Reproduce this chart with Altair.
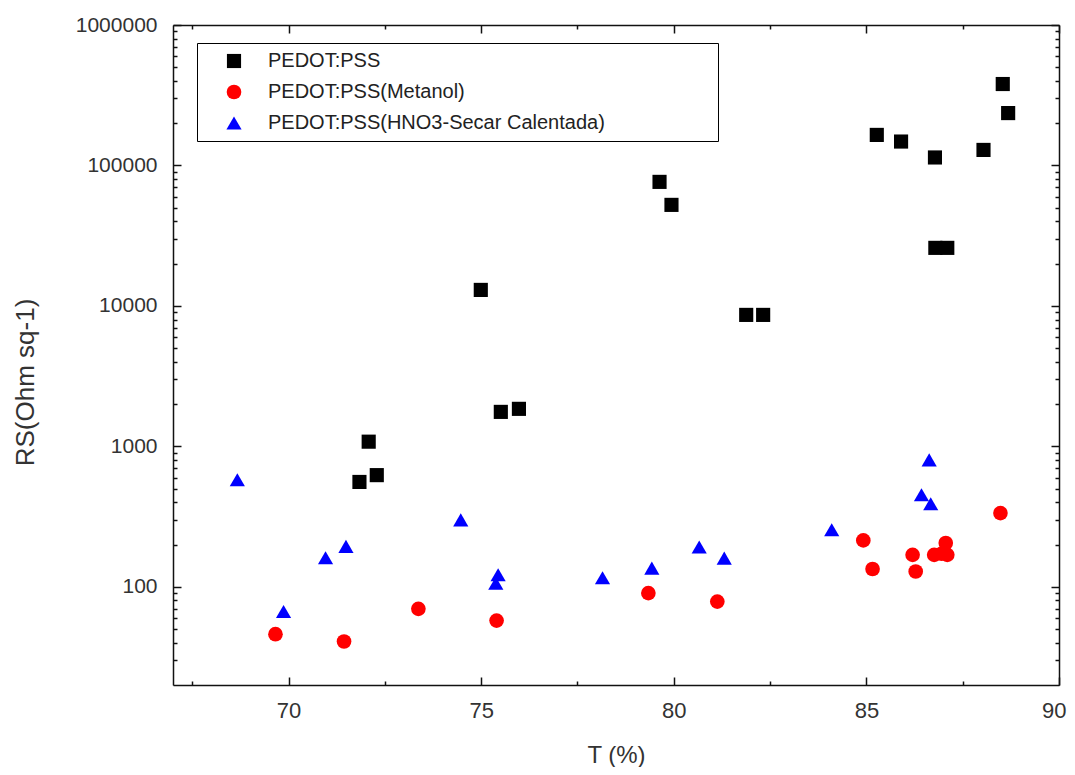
import altair as alt
import pandas as pd

SERIES = ["PEDOT:PSS", "PEDOT:PSS(Metanol)", "PEDOT:PSS(HNO3-Secar Calentada)"]
COLORS = ["#000000", "#ff0000", "#0000ff"]
SHAPES = ["square", "circle", "triangle-up"]
SIZES = [200, 230, 320]

# PEDOT:PSS (black squares)
sq_T = [88.54, 88.68, 85.27, 85.90, 86.78, 88.04, 86.79, 87.10, 79.63, 79.94,
        81.88, 82.32, 74.99, 75.51, 75.98, 72.08, 71.84, 72.29]
sq_RS = [380000, 236000, 165000, 148000, 114000, 129000, 25900, 25900, 76400, 52400,
         8630, 8630, 13000, 1760, 1850, 1080, 558, 624]

# PEDOT:PSS(Metanol) (red circles)
ci_T = [69.66, 71.44, 73.37, 75.40, 79.34, 81.13, 84.92, 85.16, 86.20, 86.28,
        86.76, 86.95, 87.06, 87.10, 88.48]
ci_RS = [46, 40.8, 69.7, 57.5, 90.2, 78.5, 214, 134, 169, 128.5,
         169, 172, 205, 169, 335]

# PEDOT:PSS(HNO3-Secar Calentada) (blue triangles)
tr_T = [68.67, 69.87, 70.96, 71.49, 74.47, 75.44, 75.38, 78.15, 79.43, 80.66,
        81.31, 84.10, 86.63, 86.43, 86.67]
tr_RS = [578, 66.7, 161, 194, 300, 122, 106, 116, 136, 192,
         160, 255, 801, 452, 390]

X_TICKS = [67.5, 70, 72.5, 75, 77.5, 80, 82.5, 85, 87.5, 90]
Y_TICKS = [30, 40, 50, 60, 70, 80, 90,
           100, 200, 300, 400, 500, 600, 700, 800, 900,
           1000, 2000, 3000, 4000, 5000, 6000, 7000, 8000, 9000,
           10000, 20000, 30000, 40000, 50000, 60000, 70000, 80000, 90000,
           100000, 200000, 300000, 400000, 500000, 600000, 700000, 800000, 900000,
           1000000]

df = pd.concat([
    pd.DataFrame({"T": sq_T, "RS": sq_RS, "series": SERIES[0]}),
    pd.DataFrame({"T": ci_T, "RS": ci_RS, "series": SERIES[1]}),
    pd.DataFrame({"T": tr_T, "RS": tr_RS, "series": SERIES[2]}),
], ignore_index=True)

W, H = 886, 660

MAJOR_X = "datum.value % 5 == 0"
MAJOR_Y = "abs(log(datum.value)/LN10 - round(log(datum.value)/LN10)) < 0.001"
X_TICK = {"expr": f"{MAJOR_X} ? -8 : -4"}
Y_TICK = {"expr": f"{MAJOR_Y} ? -8 : -4"}

x_scale = alt.Scale(domain=[67, 90], nice=False, zero=False)
y_scale = alt.Scale(type="log", domain=[20, 1000000], nice=False)

common = dict(grid=False, domainColor="#111111", domainWidth=1.5,
              tickColor="#111111", tickWidth=1.5, labelOverlap=False)

PAD = "\u2800" * 7  # non-trimmed blank so the legend frame keeps the reference width

pts = alt.Chart(df).mark_point(filled=True, opacity=1, strokeWidth=0).encode(
    x=alt.X("T:Q", scale=x_scale, axis=alt.Axis(
        orient="bottom", values=X_TICKS, format="d", tickSize=X_TICK,
        labelExpr=f"{MAJOR_X} ? datum.label : ''",
        labelFlush=True, labelFlushOffset=7,
        labelPadding=23, labelFontSize=22, labelFont="Liberation Sans",
        labelColor="#333333",
        title="T (%)", titleFontSize=24, titleFont="Liberation Sans",
        titleFontWeight="normal", titleColor="#333333",
        titleBaseline="middle", titleY=70, **common)),
    y=alt.Y("RS:Q", scale=y_scale, axis=alt.Axis(
        orient="left", values=Y_TICKS, format="d", tickSize=Y_TICK,
        labelExpr=f"{MAJOR_Y} ? datum.label : ''", labelFlush=False,
        labelPadding=24, labelFontSize=21, labelFont="Liberation Sans",
        labelColor="#333333",
        title="RS(Ohm sq-1)", titleFontSize=26, titleFont="Liberation Sans",
        titleFontWeight="normal", titleColor="#333333",
        titleBaseline="middle", titleX=-148, titleY=357, titleAngle=270,
        **common)),
    color=alt.Color("series:N", scale=alt.Scale(domain=SERIES, range=COLORS),
                    legend=alt.Legend(
                        title=None, orient="none", legendX=24, legendY=18,
                        strokeColor="black", padding=8, symbolSize=180,
                        symbolOffset=19, labelOffset=24, labelFontSize=20,
                        labelFont="Liberation Sans", labelColor="#222222",
                        rowPadding=11, labelLimit=800, symbolStrokeWidth=0,
                        labelExpr=f"datum.label + '{PAD}'")),
    shape=alt.Shape("series:N", scale=alt.Scale(domain=SERIES, range=SHAPES)),
    size=alt.Size("series:N", scale=alt.Scale(domain=SERIES, range=SIZES), legend=None),
)

frame = alt.Chart(df).mark_point(opacity=0).encode(
    x=alt.X("T:Q", scale=x_scale, axis=alt.Axis(
        orient="top", values=X_TICKS, labels=False, title=None,
        tickSize=X_TICK, **common)),
    y=alt.Y("RS:Q", scale=y_scale, axis=alt.Axis(
        orient="right", values=Y_TICKS, labels=False, title=None,
        tickSize=Y_TICK, **common)),
)

chart = alt.layer(frame, pts).resolve_axis(x="independent", y="independent").properties(
    width=W, height=H,
    padding={"left": 165, "top": 17, "right": 8, "bottom": 82},
    autosize=alt.AutoSizeParams(type="none"),
).configure_view(stroke=None).configure(background="white")

chart.save("out.html", embed_options={"renderer": "svg", "actions": False})
